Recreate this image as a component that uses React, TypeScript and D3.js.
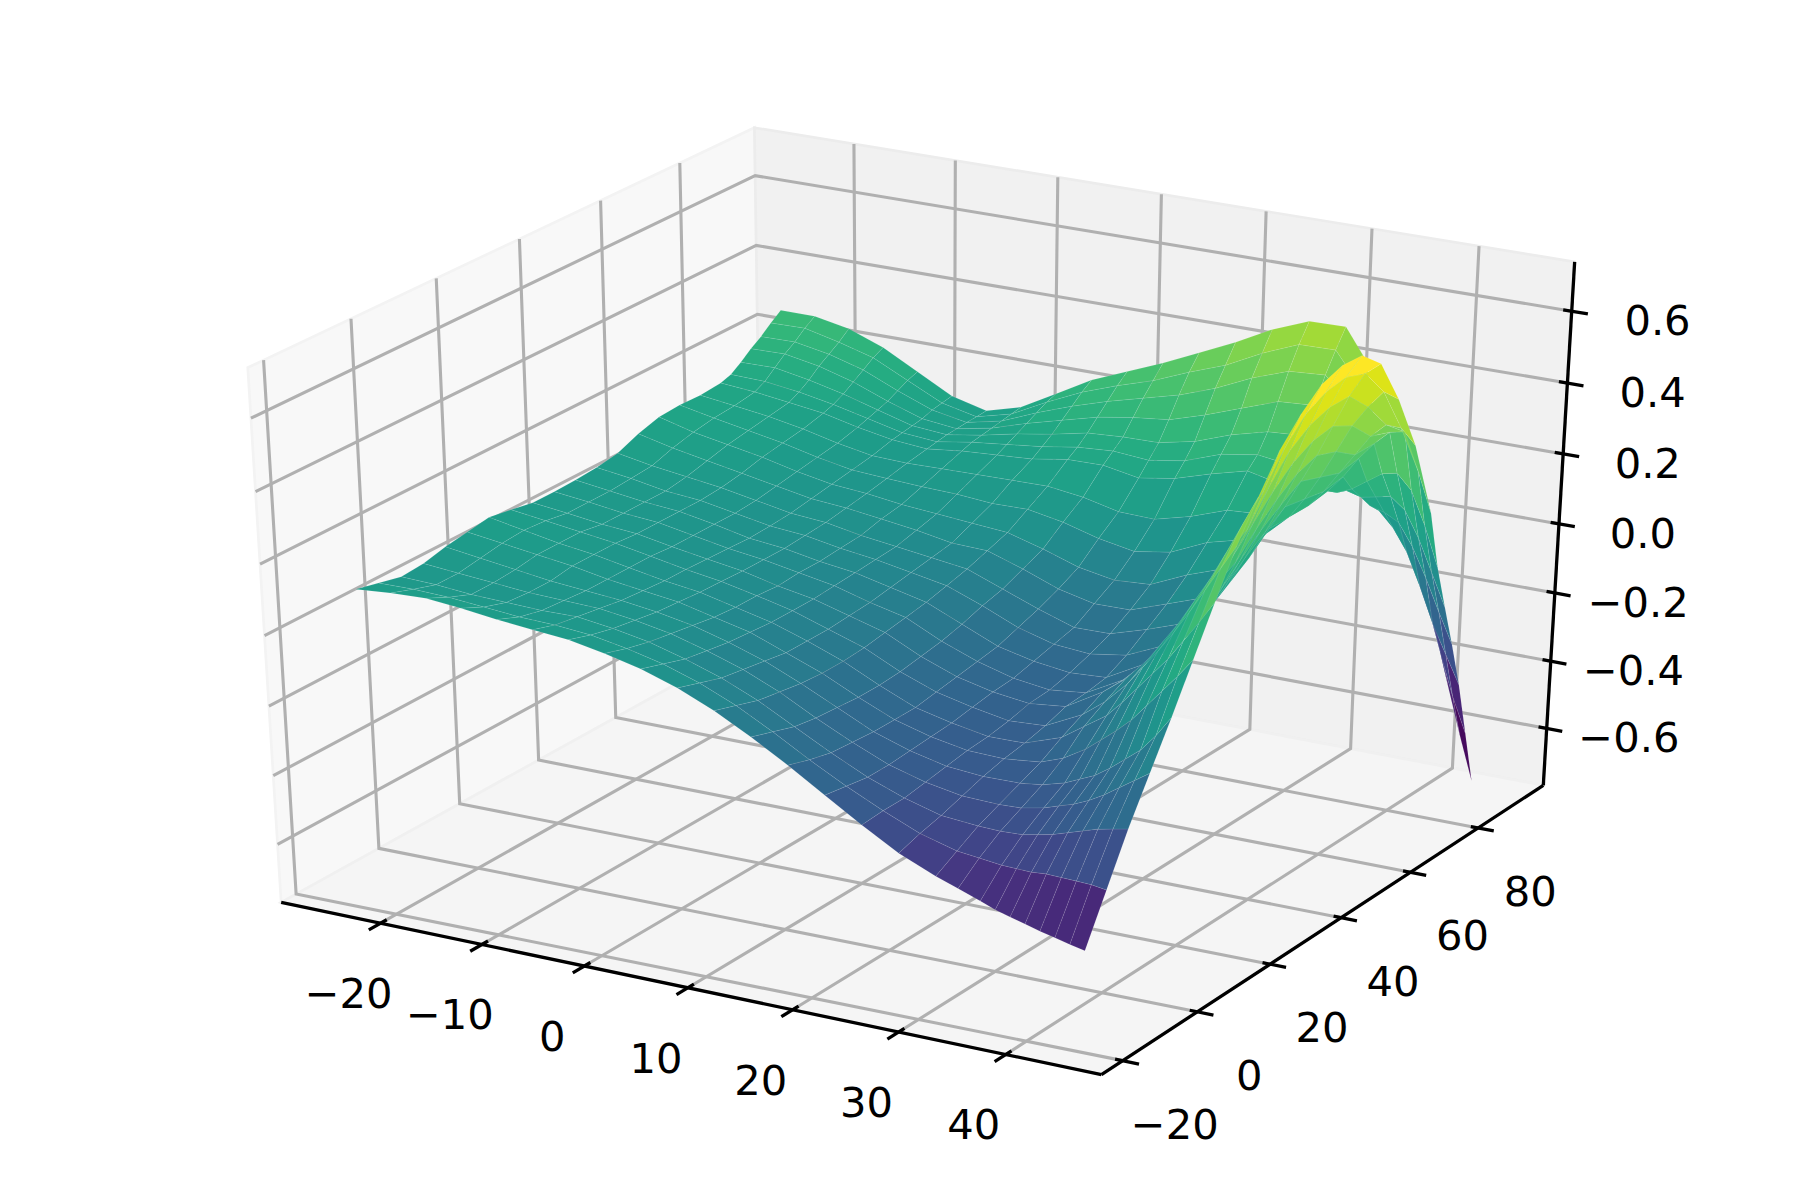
import React from 'react';
import * as d3 from 'd3';

// axis limits and ticks
const xLimits = [-29.92, 48.84];
const yLimits = [-23.56, 99.29];
const zLimits = [-0.771, 0.736];
const xTicks = [-20, -10, 0, 10, 20, 30, 40];
const yTicks = [-20, 0, 20, 40, 60, 80];
const zTicks = [-0.6, -0.4, -0.2, 0, 0.2, 0.4, 0.6];

// surface mesh: the y nodes lean slightly with x
const surfaceXs = [-26.81, -23.21, -19.61, -16.01, -12.41, -8.81, -5.21, -1.61, 1.99, 5.59, 9.19, 12.79, 16.39, 19.99, 23.59, 27.19, 30.79, 32.95, 35.11, 36.55, 37.99, 39.43, 40.87, 42.31, 43.75, 45.19];
const surfaceYs = [-9.43, -4.09, 1.26, 6.6, 11.95, 17.29, 22.63, 27.98, 33.32, 38.67, 44.01, 49.35, 54.7, 60.04, 65.39, 70.73, 76.07, 81.42, 84.09, 86.76, 89.43, 92.11, 94.78, 97.45];
const yLeanPerX = -0.1194;
const surfaceZ = [
  [.06, .072, .08, .075, .066, .06, .055, .04, .02, -.01, -.05, -.1, -.155, -.215, -.275, -.33, -.37, -.39, -.41, -.425, -.435, -.445, -.455, -.463, -.472, -.48],
  [.045, .05, .05, .045, .04, .04, .035, .02, 0, -.03, -.07, -.12, -.175, -.225, -.27, -.31, -.335, -.34, -.345, -.345, -.345, -.34, -.34, -.34, -.34, -.345],
  [.03, .03, .025, .025, .025, .03, .02, .005, -.02, -.05, -.09, -.14, -.19, -.235, -.27, -.295, -.3, -.3, -.295, -.285, -.275, -.26, -.245, -.23, -.22, -.21],
  [.035, .03, .025, .02, .02, .02, .01, -.005, -.03, -.06, -.1, -.15, -.195, -.235, -.26, -.275, -.275, -.27, -.255, -.24, -.225, -.205, -.18, -.15, -.12, -.09],
  [.05, .04, .03, .02, .015, .01, 0, -.015, -.04, -.07, -.11, -.155, -.2, -.23, -.25, -.255, -.25, -.24, -.22, -.2, -.18, -.15, -.115, -.08, -.03, .03],
  [.06, .05, .04, .03, .015, .005, -.005, -.025, -.045, -.08, -.115, -.16, -.2, -.225, -.24, -.24, -.225, -.2, -.16, -.125, -.09, -.05, 0, .05, .1, .155],
  [.07, .055, .04, .03, .015, 0, -.01, -.03, -.05, -.08, -.115, -.16, -.2, -.22, -.235, -.23, -.19, -.145, -.1, -.055, -.005, .045, .095, .155, .215, .28],
  [.06, .05, .04, .03, .015, 0, -.012, -.03, -.05, -.08, -.11, -.155, -.19, -.21, -.225, -.215, -.16, -.11, -.045, .01, .065, .125, .19, .26, .33, .4],
  [.048, .04, .03, .025, .01, -.003, -.015, -.035, -.05, -.075, -.1, -.145, -.18, -.2, -.21, -.195, -.13, -.08, -.01, .05, .11, .18, .25, .33, .415, .5],
  [.048, .04, .03, .025, .01, -.005, -.015, -.03, -.045, -.07, -.09, -.135, -.17, -.195, -.205, -.19, -.13, -.07, 0, .06, .12, .19, .27, .36, .475, .595],
  [.05, .04, .03, .025, .01, -.008, -.015, -.03, -.04, -.06, -.08, -.12, -.16, -.18, -.19, -.18, -.12, -.07, -.01, .05, .13, .22, .33, .44, .56, .66],
  [.055, .045, .03, .025, .01, -.005, -.01, -.025, -.035, -.05, -.065, -.1, -.14, -.165, -.17, -.15, -.1, -.05, .03, .1, .185, .28, .39, .51, .62, .71],
  [.065, .05, .04, .03, .015, 0, -.005, -.02, -.03, -.04, -.05, -.085, -.12, -.15, -.145, -.11, -.07, -.01, .07, .15, .235, .33, .44, .55, .65, .73],
  [.09, .07, .055, .04, .025, .01, .005, -.005, -.015, -.03, -.03, -.06, -.095, -.115, -.11, -.07, -.03, .03, .11, .19, .275, .37, .47, .57, .66, .727],
  [.108, .085, .07, .055, .035, .02, .015, .005, 0, -.005, -.01, -.035, -.065, -.08, -.07, -.02, .02, .08, .16, .23, .31, .39, .48, .57, .64, .675],
  [.112, .095, .08, .065, .045, .03, .027, .025, .025, .02, .025, .01, -.015, -.03, -.01, .04, .07, .1, .16, .22, .29, .37, .45, .51, .56, .548],
  [.11, .1, .09, .075, .055, .04, .04, .045, .05, .055, .06, .05, .03, .03, .06, .1, .11, .12, .16, .21, .27, .33, .39, .43, .43, .39],
  [.115, .11, .1, .09, .07, .055, .05, .065, .075, .085, .105, .11, .095, .115, .15, .18, .16, .14, .17, .22, .28, .33, .37, .38, .28, .17],
  [.125, .125, .115, .1, .08, .06, .055, .075, .09, .105, .125, .135, .13, .15, .19, .21, .2, .17, .15, .17, .2, .23, .24, .2, .11, 0],
  [.145, .15, .135, .115, .09, .065, .06, .08, .105, .125, .15, .16, .165, .19, .23, .26, .27, .22, .14, .13, .14, .15, .12, .05, -.04, -.13],
  [.17, .175, .16, .135, .1, .07, .062, .085, .12, .15, .18, .2, .215, .25, .29, .33, .34, .3, .13, .09, .08, .06, 0, -.08, -.17, -.255],
  [.19, .195, .18, .155, .115, .08, .065, .09, .135, .175, .21, .24, .27, .31, .36, .4, .41, .35, .12, .06, .02, -.04, -.13, -.23, -.31, -.39],
  [.215, .22, .2, .175, .13, .085, .066, .095, .15, .2, .24, .275, .32, .36, .415, .46, .465, .39, .09, .03, -.03, -.11, -.2, -.33, -.45, -.55],
  [.237, .24, .224, .19, .14, .09, .068, .1, .16, .22, .265, .31, .36, .41, .467, .51, .515, .43, .06, .005, -.066, -.16, -.27, -.44, -.58, -.71],
];
// height to colormap position
const colorHeights = [-0.62, -0.48, -0.4, -0.25, -0.07, 0, 0.68];
const colorStops = [0, 0.07, 0.12, 0.28, 0.43, 0.51, 1];

const toA = d3.scaleLinear().domain(xLimits).range([0, 1]);
const toB = d3.scaleLinear().domain(yLimits).range([0, 1]);
const toC = d3.scaleLinear().domain(zLimits).range([0, 1]);
// the y ticks on the front axis sit a little further along than on the far wall
const frontB = (t: number) => toB(t) + 0.016 * (80 - t) / 100;
const screenX = d3.scaleLinear().domain([0, 1]).range([922, 922 + 10933]);
const screenY = d3.scaleLinear().domain([0, 1]).range([585, 585 - 7050]);
const colorPosition = d3.scaleLinear().domain(colorHeights).range(colorStops).clamp(true);
const faceColor = (z: number) => d3.interpolateViridis(colorPosition(z));

// elev 30, azim -60 camera on the unit box, distance 10
const project = (a: number, b: number, c: number) => {
  const dx = a - 0.5;
  const dy = b - 0.5;
  const dz = c - 0.5;
  const right = 0.75 * dx + 0.433 * dy;
  const up = -0.2165 * dx + 0.375 * dy + 0.75 * dz;
  const near = 0.433 * dx - 0.75 * dy + 0.5 * dz;
  const depth = 10 - near;
  return { x: screenX(right / depth), y: screenY(up / depth), depth };
};
const pt = (a: number, b: number, c: number): [number, number] => {
  const p = project(a, b, c);
  return [p.x, p.y];
};
const pathOf = d3.line();

const GRID = '#b0b0b0';
const FONT = '"DejaVu Sans", sans-serif';
const labelOf = (v: number, digits: number) => v.toFixed(digits).replace('-', '\u2212');

function Surface() {
  const node = (i: number, j: number) => {
    const a = toA(surfaceXs[i]);
    const b = toB(surfaceYs[j] + yLeanPerX * (surfaceXs[i] - surfaceXs[0]));
    return project(a, b, toC(surfaceZ[j][i]));
  };
  const faces: { d: string; depth: number; fill: string }[] = [];
  for (let j = 0; j < surfaceYs.length - 1; j++) {
    for (let i = 0; i < surfaceXs.length - 1; i++) {
      const corners = [node(i, j), node(i + 1, j), node(i + 1, j + 1), node(i, j + 1)];
      const mean = (surfaceZ[j][i] + surfaceZ[j][i + 1] + surfaceZ[j + 1][i + 1] + surfaceZ[j + 1][i]) / 4;
      faces.push({
        d: pathOf(corners.map((p) => [p.x, p.y] as [number, number])) + 'Z',
        depth: d3.mean(corners, (p) => p.depth) as number,
        fill: faceColor(mean),
      });
    }
  }
  faces.sort((p, q) => q.depth - p.depth);
  return (
    <g stroke="#fff" strokeOpacity={0.12} strokeWidth={0.7}>
      {faces.map((f, k) => (
        <path key={k} d={f.d} fill={f.fill} />
      ))}
    </g>
  );
}

export default function App() {
  return (
    <svg width={1800} height={1200} style={{ position: 'absolute', left: 0, top: 0, background: '#fff' }}>
      {/* panes */}
      <path d={pathOf([pt(0, 0, 0), pt(0, 1, 0), pt(0, 1, 1), pt(0, 0, 1)]) + 'Z'} fill="#f8f8f8" stroke="#f3f3f3" strokeWidth={2.7} />
      <path d={pathOf([pt(0, 1, 0), pt(1, 1, 0), pt(1, 1, 1), pt(0, 1, 1)]) + 'Z'} fill="#f1f1f1" stroke="#ececec" strokeWidth={2.7} />
      <path d={pathOf([pt(0, 0, 0), pt(1, 0, 0), pt(1, 1, 0), pt(0, 1, 0)]) + 'Z'} fill="#f5f5f5" stroke="#f0f0f0" strokeWidth={2.7} />

      {/* grid */}
      <g fill="none" stroke={GRID} strokeWidth={3.1}>
        {xTicks.map((t) => (
          <path key={t} d={pathOf([pt(toA(t), 0, 0), pt(toA(t), 1, 0), pt(toA(t), 1, 1)]) as string} />
        ))}
        {yTicks.map((t) => (
          <path key={t} d={pathOf([pt(1, frontB(t), 0), pt(0, toB(t), 0), pt(0, toB(t), 1)]) as string} />
        ))}
        {zTicks.map((t) => (
          <path key={t} d={pathOf([pt(0, 0, toC(t)), pt(0, 1, toC(t)), pt(1, 1, toC(t))]) as string} />
        ))}
      </g>

      {/* axis lines and ticks */}
      <g fill="none" stroke="#000" strokeWidth={3.3}>
        <path d={pathOf([pt(0, 0, 0), pt(1, 0, 0)]) as string} />
        <path d={pathOf([pt(1, 0, 0), pt(1, 1, 0)]) as string} />
        <path d={pathOf([pt(1, 1, 0), pt(1, 1, 1)]) as string} />
        {xTicks.map((t) => (
          <path key={t} d={pathOf([pt(toA(t), -0.023, 0), pt(toA(t), 0.012, 0)]) as string} />
        ))}
        {yTicks.map((t) => (
          <path key={t} d={pathOf([pt(0.991, frontB(t), 0), pt(1.019, frontB(t), 0)]) as string} />
        ))}
        {zTicks.map((t) => (
          <path key={t} d={pathOf([pt(0.99, 1, toC(t)), pt(1.019, 1, toC(t))]) as string} />
        ))}
      </g>

      <Surface />

      {/* tick labels */}
      <g fontFamily={FONT} fontSize={41.67} textAnchor="middle" fill="#000">
        {xTicks.map((t) => {
          const [x, y] = pt(toA(t), 0, 0);
          return <text key={t} x={x - 32} y={y + 85}>{labelOf(t, 0)}</text>;
        })}
        {yTicks.map((t) => {
          const [x, y] = pt(1, frontB(t), 0);
          return <text key={t} x={x + 52} y={y + 78}>{labelOf(t, 0)}</text>;
        })}
        {zTicks.map((t) => {
          const [x, y] = pt(1, 1, toC(t));
          return <text key={t} x={x + 84 + 3 * t} y={y + 24}>{labelOf(t, 1)}</text>;
        })}
      </g>
    </svg>
  );
}
